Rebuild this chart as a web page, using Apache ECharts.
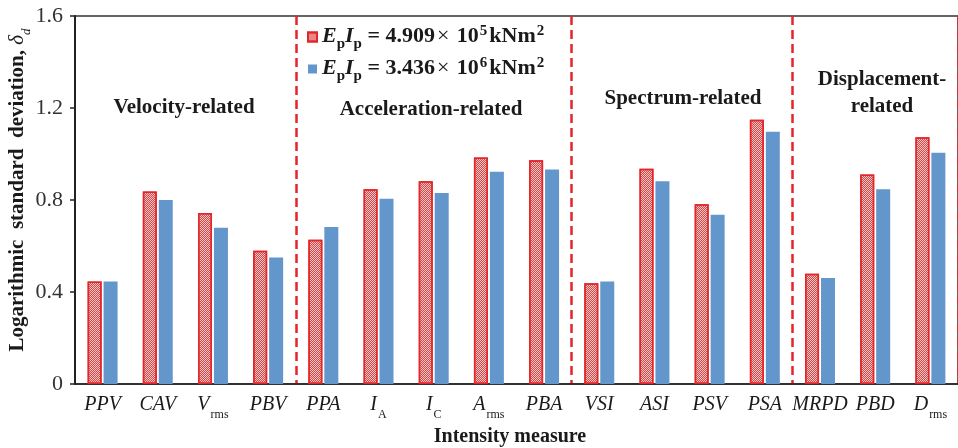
<!DOCTYPE html>
<html>
<head>
<meta charset="utf-8">
<script src="https://cdn.jsdelivr.net/npm/echarts@6/dist/echarts.min.js"></script>
<style>html,body{margin:0;padding:0;background:#fff}#c{width:958px;height:448px}</style>
</head>
<body>
<div id="c"></div>
<script>
// ---- data ----
const categories = ['PPV','CAV','V_rms','PBV','PPA','I_A','I_C','A_rms','PBA','VSI','ASI','PSV','PSA','MRPD','PBD','D_rms'];
const seriesNames = ['EpIp = 4.909x10^5 kNm^2', 'EpIp = 3.436x10^6 kNm^2'];
const legendExponents = ['4.909', '5', '3.436', '6'];
const valuesLowStiffness  = [0.446,0.837,0.743,0.579,0.627,0.847,0.882,0.985,0.973,0.438,0.936,0.782,1.149,0.479,0.911,1.073];
const valuesHighStiffness = [0.446,0.800,0.679,0.550,0.683,0.805,0.830,0.923,0.933,0.446,0.882,0.736,1.097,0.461,0.847,1.005];
const yMin = 0, yMax = 1.6, yInterval = 0.4;
const dividerStarts = [4, 9, 13];
const groupLabels = ['Velocity-related','Acceleration-related','Spectrum-related','Displacement-\nrelated'];
const yAxisTitle = 'Logarithmic  standard  deviation, ';
const xAxisTitle = 'Intensity measure';

// ---- chart ----
const FONT = '"Liberation Serif","Times New Roman",serif';
const TXT = '#1a1a1a';
const chart = echarts.init(document.getElementById('c'), null, {renderer:'canvas'});

function legendText(mant, exp) {
  return '{i|E}{s|p}{i|I}{s|p}{t| = ' + mant + '}{x|×}{t| 10}{u|' + exp + '}{t|kNm}{u|2}';
}
const legendRich = {
  i:{fontFamily:FONT,fontSize:22,fontWeight:'bold',fontStyle:'italic',color:TXT,lineHeight:24,verticalAlign:'top'},
  t:{fontFamily:FONT,fontSize:22,fontWeight:'bold',color:TXT,lineHeight:24,verticalAlign:'top'},
  x:{fontFamily:FONT,fontSize:22,fontWeight:'normal',color:TXT,lineHeight:24,verticalAlign:'top',padding:[0,2,0,2]},
  s:{fontFamily:FONT,fontSize:15,fontWeight:'bold',color:TXT,lineHeight:14,verticalAlign:'top',padding:[12,0,0,0]},
  u:{fontFamily:FONT,fontSize:15,fontWeight:'bold',color:TXT,lineHeight:14,verticalAlign:'top',padding:[-1,2,0,1]}
};

const groupPos = [[184,108],[431,110],[683,99],[882,93]];

const option = {
  animation:false,
  grid:{left:75,right:-9,top:16,bottom:64,show:true,borderColor:'#333',borderWidth:1.5,backgroundColor:'transparent'},
  legend:{
    orient:'vertical', left:302, top:19, itemWidth:9, itemHeight:9, itemGap:4, icon:'rect',
    data:seriesNames,
    formatter:function(name){
      return name === seriesNames[0] ? legendText(legendExponents[0], legendExponents[1]) : legendText(legendExponents[2], legendExponents[3]);
    },
    textStyle:{rich:legendRich}
  },
  xAxis:{
    type:'category', data:categories,
    axisLine:{lineStyle:{color:'#222',width:1.5}},
    axisTick:{show:false},
    splitLine:{show:true, interval:function(idx){return dividerStarts.indexOf(idx) >= 0;}, lineStyle:{color:'#E3262A',width:2.5,type:[9,5]}},
    axisLabel:{
      interval:0, margin:11,
      formatter:function(v){
        const p = v.split('_');
        return p.length > 1 ? '{m|' + p[0] + '}{s|' + p[1] + '}' : '{m|' + v + '}';
      },
      rich:{
        m:{fontFamily:FONT,fontSize:20,fontStyle:'italic',color:TXT,lineHeight:22,verticalAlign:'top'},
        s:{fontFamily:FONT,fontSize:12,color:TXT,lineHeight:12,verticalAlign:'top',padding:[14,0,0,1]}
      }
    }
  },
  yAxis:{
    type:'value', min:yMin, max:yMax, interval:yInterval,
    axisLine:{show:true,lineStyle:{color:'#222',width:2}},
    axisTick:{show:true,length:5,lineStyle:{color:'#222',width:1.5}},
    splitLine:{show:false},
    axisLabel:{fontFamily:FONT,fontSize:22,color:'#333',margin:12}
  },
  series:[
    {
      name:seriesNames[0], type:'bar', data:valuesLowStiffness, barWidth:14, barGap:'14%',
      itemStyle:{
        color:'#F3C6C6', borderColor:'#E3262A', borderWidth:1.5,
        decal:{symbol:'rect',symbolSize:1,color:'#D94848',dashArrayX:[[1,1],[0,1,1,0]],dashArrayY:[1,0],rotation:0}
      }
    },
    {
      name:seriesNames[1], type:'bar', data:valuesHighStiffness, barWidth:14,
      itemStyle:{color:'#6397CB'}
    }
  ],
  graphic:[
    ...groupLabels.map(function(t,i){
      return {type:'text', x:groupPos[i][0], y:groupPos[i][1], z:10,
        style:{text:t, fontFamily:FONT, fontSize:21, fontWeight:'bold', fill:TXT, align:'center', verticalAlign:'middle', lineHeight:27}};
    }),
    {type:'text', x:18, y:190, rotation:Math.PI/2, z:10,
      style:{text:'{b|' + yAxisTitle + '}{d|δ}{s|d}', align:'center', verticalAlign:'middle',
        rich:{
          b:{fontFamily:FONT,fontSize:21,fontWeight:'bold',fill:TXT,lineHeight:22,verticalAlign:'top'},
          d:{fontFamily:FONT,fontSize:21,fontStyle:'italic',fill:TXT,lineHeight:22,verticalAlign:'top'},
          s:{fontFamily:FONT,fontSize:13,fontStyle:'italic',fill:TXT,lineHeight:12,verticalAlign:'top',padding:[13,0,0,0]}
        }}},
    {type:'text', x:510, y:437, z:10,
      style:{text:xAxisTitle, fontFamily:FONT, fontSize:20, fontWeight:'bold', fill:TXT, align:'center', verticalAlign:'middle'}}
  ]
};
chart.setOption(option);
</script>
</body>
</html>
